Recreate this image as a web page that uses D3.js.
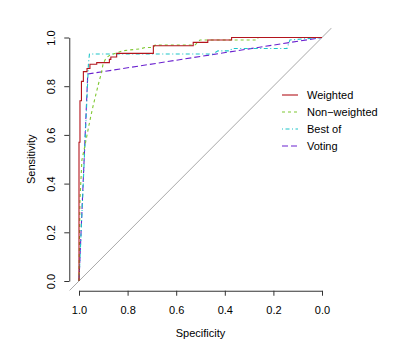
<!DOCTYPE html>
<html>
<head>
<meta charset="utf-8">
<script src="https://cdn.jsdelivr.net/npm/d3@7"></script>
<style>
  body { margin: 0; background: #fff; }
  svg text { font-family: "Liberation Sans", Arial, sans-serif; font-size: 11px; fill: #000; }
</style>
</head>
<body>
<div id="chart"></div>
<script>
// ROC curves as (specificity, sensitivity)
var seriesNames = ["Weighted", "Non\u2212weighted", "Best of", "Voting"];

var weighted = [
  [1, 0], [1, 0.57], [0.996, 0.57], [0.996, 0.74], [0.99, 0.74], [0.99, 0.82],
  [0.982, 0.82], [0.982, 0.86], [0.967, 0.86], [0.967, 0.873], [0.955, 0.873],
  [0.955, 0.89], [0.927, 0.89], [0.927, 0.897], [0.875, 0.897], [0.875, 0.91],
  [0.869, 0.91], [0.869, 0.92], [0.845, 0.92], [0.845, 0.935], [0.694, 0.935],
  [0.694, 0.966], [0.53, 0.966], [0.53, 0.98], [0.47, 0.98], [0.47, 0.99],
  [0.372, 0.99], [0.372, 1], [0, 1]
];

var nonWeighted = [
  [1, 0], [0.998, 0.168], [0.996, 0.333], [0.992, 0.415], [0.988, 0.497],
  [0.975, 0.559], [0.963, 0.62], [0.953, 0.669], [0.942, 0.719], [0.93, 0.768],
  [0.92, 0.809], [0.909, 0.85], [0.901, 0.891], [0.889, 0.916], [0.872, 0.928],
  [0.848, 0.936], [0.823, 0.945], [0.79, 0.949], [0.749, 0.953], [0.728, 0.959],
  [0.695, 0.959], [0.687, 0.969], [0.523, 0.969], [0.502, 0.99], [0.267, 0.99],
  [0.263, 1], [0, 1]
];

var bestOf = [
  [1, 0], [0.961, 0.895], [0.957, 0.932], [0.449, 0.932], [0.428, 0.945],
  [0.379, 0.945], [0.37, 0.955], [0.144, 0.955], [0.132, 0.99], [0, 1]
];

var voting = [
  [1, 0], [0.964, 0.85], [0, 1]
];

var xTicks = [1.0, 0.8, 0.6, 0.4, 0.2, 0.0];
var yTicks = [0.0, 0.2, 0.4, 0.6, 0.8, 1.0];

var colors = ["#b3141c", "#7fc832", "#1cc4c8", "#6b22cf"];
var dashes = ["none", "3,3", "1,2.5,4,2.5", "6,3"];

var width = 415, height = 346;

var x = d3.scaleLinear().domain([1, 0]).range([79, 322]);
var y = d3.scaleLinear().domain([0, 1]).range([281, 37.5]);

// R-style plot region: 4% padding past the data range
var px0 = x(1.04), px1 = x(-0.04), py0 = y(-0.04), py1 = y(1.04);

var svg = d3.select("#chart").append("svg")
  .attr("width", width)
  .attr("height", height);

svg.append("defs").append("clipPath").attr("id", "plotclip")
  .append("rect")
  .attr("x", px0).attr("y", py1)
  .attr("width", px1 - px0).attr("height", py0 - py1);

var plot = svg.append("g").attr("clip-path", "url(#plotclip)");

// chance diagonal
plot.append("line")
  .attr("x1", x(1.04)).attr("y1", y(-0.04))
  .attr("x2", x(-0.04)).attr("y2", y(1.04))
  .attr("stroke", "#a8a8a8")
  .attr("stroke-width", 1);

var line = d3.line()
  .x(function (d) { return x(d[0]); })
  .y(function (d) { return y(d[1]); });

var curves = [weighted, nonWeighted, bestOf, voting];

// draw back to front so the weighted curve sits on top
[3, 2, 1, 0].forEach(function (i) {
  plot.append("path")
    .datum(curves[i])
    .attr("d", line)
    .attr("fill", "none")
    .attr("stroke", colors[i])
    .attr("stroke-width", 1.1)
    .attr("stroke-dasharray", dashes[i]);
});

// axes
var xAxis = svg.append("g")
  .attr("transform", "translate(0," + py0 + ")")
  .call(d3.axisBottom(x).tickValues(xTicks).tickFormat(d3.format(".1f"))
    .tickSize(5).tickSizeOuter(0).tickPadding(10));

var yAxis = svg.append("g")
  .attr("transform", "translate(" + px0 + ",0)")
  .call(d3.axisLeft(y).tickValues(yTicks).tickFormat(d3.format(".1f"))
    .tickSize(5).tickSizeOuter(0));

yAxis.selectAll(".tick text")
  .attr("transform", "rotate(-90)")
  .attr("x", 0)
  .attr("y", -14.5)
  .attr("dy", 0)
  .style("text-anchor", "middle");

[xAxis, yAxis].forEach(function (a) {
  a.selectAll("path, line").attr("stroke", "#333");
  a.selectAll("text").attr("font-size", 11).attr("font-family", null);
});

svg.append("text")
  .attr("x", (x(1) + x(0)) / 2)
  .attr("y", 337)
  .attr("text-anchor", "middle")
  .text("Specificity");

svg.append("text")
  .attr("transform", "translate(35," + ((y(0) + y(1)) / 2) + ") rotate(-90)")
  .attr("text-anchor", "middle")
  .text("Sensitivity");

// legend
var legend = svg.append("g").attr("transform", "translate(282,95)");

seriesNames.forEach(function (name, i) {
  var row = legend.append("g").attr("transform", "translate(0," + (i * 17) + ")");
  row.append("line")
    .attr("x1", 0).attr("x2", 16)
    .attr("y1", 0).attr("y2", 0)
    .attr("stroke", colors[i])
    .attr("stroke-width", 1.1)
    .attr("stroke-dasharray", dashes[i]);
  row.append("text")
    .attr("x", 25)
    .attr("y", 4)
    .text(name);
});
</script>
</body>
</html>
